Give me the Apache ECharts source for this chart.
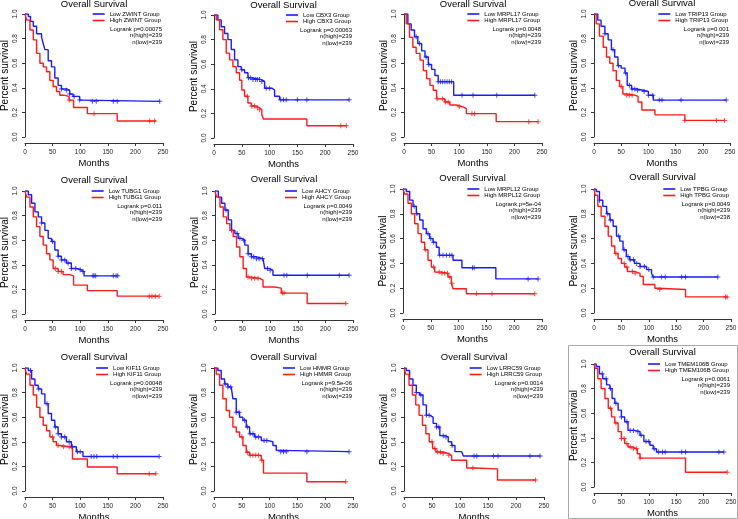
<!DOCTYPE html>
<html><head><meta charset="utf-8">
<script src="https://cdn.jsdelivr.net/npm/echarts@6/dist/echarts.min.js"></script>
<style>html,body{margin:0;padding:0;background:#fff}#c{width:738px;height:519px}</style>
</head><body><div id="c"></div>
<script>
// ---- tick labels ----
const xTicks = [0, 50, 100, 150, 200, 250];
const yTicks = [0, 0.2, 0.4, 0.6, 0.8, 1.0];

// ---- panel texts ----
const genes = ['ZWINT','CBX3','MRPL17','TRIP13','TUBG1','AHCY','MRPL12','TPBG','KIF11','HMMR','LRRC59','TMEM106B'];
const pValues = ['0.00075','0.00063','0.0048','0.001','0.011','0.0049','5e-04','0.0049','0.00048','9.5e-06','0.0014','0.0061'];
const nHigh = [239,239,239,239,239,239,239,239,239,239,239,239];
const nLow  = [239,239,239,239,239,239,239,238,239,239,239,239];

// ---- survival curves [months, survival] ----
const lowZWINT = [[0,1],[6,0.98],[10,0.94],[15,0.90],[21,0.84],[30,0.81],[33,0.76],[36,0.71],[42,0.62],[48,0.57],[54,0.48],[60,0.42],[66,0.39],[75,0.38],[81,0.35],[87,0.33],[99,0.30],[105,0.29],[244,0.29]];
const highZWINT = [[0,1],[3,0.95],[9,0.87],[15,0.79],[21,0.68],[27,0.60],[33,0.57],[39,0.53],[45,0.46],[51,0.41],[57,0.37],[63,0.34],[70,0.33],[80,0.30],[88,0.24],[113,0.19],[167,0.13],[237,0.13]];
const lowCBX3 = [[0,1],[7,0.96],[13,0.905],[19,0.85],[25,0.80],[31,0.72],[37,0.635],[43,0.58],[49,0.555],[55,0.53],[61,0.49],[67,0.475],[85,0.46],[91,0.405],[104,0.39],[109,0.34],[118,0.31],[243,0.31]];
const highCBX3 = [[0,1],[4,0.96],[10,0.88],[16,0.80],[22,0.69],[28,0.635],[34,0.58],[40,0.53],[46,0.47],[50,0.39],[55,0.34],[61,0.285],[67,0.26],[76,0.245],[82,0.23],[86,0.19],[89,0.155],[167,0.10],[238,0.10]];
const lowMRPL17 = [[0,1],[7,0.92],[13,0.87],[19,0.815],[25,0.76],[32,0.70],[38,0.65],[44,0.59],[50,0.55],[56,0.50],[62,0.45],[90,0.34],[237,0.34]];
const highMRPL17 = [[0,1],[4,0.92],[10,0.81],[16,0.73],[22,0.68],[29,0.625],[35,0.54],[41,0.475],[47,0.42],[53,0.38],[59,0.31],[74,0.285],[83,0.26],[95,0.245],[107,0.23],[113,0.19],[167,0.125],[243,0.125]];
const lowTRIP13 = [[0,1],[7,0.95],[13,0.90],[20,0.84],[26,0.79],[32,0.71],[38,0.65],[44,0.58],[50,0.56],[57,0.52],[61,0.42],[69,0.39],[78,0.38],[90,0.37],[100,0.34],[109,0.30],[243,0.30]];
const highTRIP13 = [[0,1],[4,0.92],[10,0.82],[17,0.73],[23,0.65],[29,0.60],[35,0.54],[41,0.46],[47,0.41],[53,0.35],[60,0.34],[75,0.33],[81,0.285],[88,0.22],[112,0.18],[167,0.135],[240,0.135]];
const lowTUBG1 = [[0,1],[6,0.97],[12,0.90],[18,0.83],[24,0.79],[30,0.74],[36,0.68],[42,0.615],[48,0.59],[54,0.52],[60,0.47],[66,0.44],[75,0.415],[84,0.37],[93,0.36],[102,0.345],[107,0.31],[168,0.31]];
const highTUBG1 = [[0,1],[3,0.95],[9,0.87],[15,0.79],[21,0.71],[27,0.63],[33,0.56],[39,0.49],[45,0.44],[51,0.37],[60,0.345],[69,0.32],[81,0.31],[88,0.235],[113,0.19],[167,0.145],[243,0.145]];
const lowAHCY = [[0,1],[6,0.95],[12,0.90],[18,0.845],[24,0.765],[30,0.68],[36,0.655],[42,0.615],[48,0.60],[54,0.56],[60,0.49],[66,0.465],[75,0.45],[87,0.44],[90,0.37],[99,0.355],[105,0.315],[243,0.315]];
const highAHCY = [[0,1],[3,0.95],[9,0.87],[15,0.79],[21,0.735],[27,0.68],[33,0.63],[39,0.545],[45,0.465],[51,0.37],[57,0.30],[66,0.29],[81,0.275],[87,0.22],[108,0.21],[120,0.17],[167,0.085],[237,0.085]];
const lowMRPL12 = [[0,1],[6,0.98],[12,0.91],[18,0.86],[24,0.80],[30,0.75],[36,0.68],[42,0.64],[48,0.60],[54,0.57],[60,0.53],[65,0.465],[90,0.425],[106,0.365],[167,0.275],[243,0.275]];
const highMRPL12 = [[0,1],[3,0.96],[9,0.885],[15,0.80],[21,0.72],[27,0.64],[33,0.57],[39,0.51],[45,0.425],[51,0.37],[57,0.33],[69,0.32],[81,0.29],[87,0.24],[90,0.195],[114,0.155],[237,0.155]];
const lowTPBG = [[0,1],[4,0.98],[10,0.91],[16,0.86],[23,0.80],[29,0.75],[35,0.70],[41,0.62],[47,0.58],[53,0.51],[59,0.455],[65,0.43],[74,0.40],[84,0.375],[96,0.35],[105,0.32],[108,0.29],[226,0.29]];
const highTPBG = [[0,1],[2,0.95],[7,0.86],[13,0.78],[20,0.70],[26,0.62],[32,0.54],[38,0.48],[44,0.44],[50,0.40],[56,0.37],[61,0.335],[74,0.32],[84,0.295],[90,0.23],[111,0.20],[117,0.19],[167,0.13],[243,0.13]];
const lowKIF11 = [[0,1],[6,0.98],[12,0.91],[18,0.86],[24,0.83],[30,0.79],[36,0.71],[42,0.63],[48,0.575],[54,0.52],[60,0.465],[66,0.44],[75,0.40],[84,0.36],[93,0.32],[105,0.28],[243,0.28]];
const highKIF11 = [[0,1],[3,0.95],[9,0.86],[15,0.78],[21,0.68],[27,0.60],[33,0.535],[39,0.49],[45,0.44],[51,0.40],[57,0.37],[63,0.36],[81,0.345],[86,0.26],[113,0.195],[167,0.14],[237,0.14]];
const lowHMMR = [[0,1],[7,0.98],[13,0.91],[19,0.87],[25,0.845],[31,0.83],[34,0.75],[40,0.64],[46,0.60],[52,0.575],[58,0.52],[64,0.465],[73,0.44],[85,0.41],[97,0.40],[106,0.37],[112,0.33],[118,0.32],[243,0.32]];
const highHMMR = [[0,1],[4,0.95],[10,0.86],[16,0.75],[22,0.655],[28,0.60],[34,0.52],[40,0.48],[46,0.44],[52,0.37],[58,0.315],[64,0.29],[85,0.25],[89,0.145],[167,0.075],[237,0.075]];
const lowLRRC59 = [[0,1],[4,0.98],[10,0.91],[16,0.86],[22,0.80],[28,0.78],[34,0.70],[40,0.615],[46,0.60],[52,0.55],[58,0.52],[64,0.45],[73,0.44],[79,0.40],[85,0.37],[91,0.32],[103,0.317],[106,0.285],[243,0.285]];
const highLRRC59 = [[0,1],[3,0.95],[9,0.86],[15,0.78],[21,0.70],[27,0.615],[33,0.535],[39,0.465],[45,0.40],[51,0.345],[57,0.317],[70,0.305],[79,0.29],[85,0.25],[112,0.187],[124,0.18],[167,0.09],[235,0.09]];
const lowTMEM106B = [[0,1],[4,0.98],[10,0.92],[16,0.88],[23,0.83],[29,0.80],[33,0.72],[38,0.68],[44,0.625],[50,0.57],[56,0.53],[62,0.46],[74,0.45],[84,0.42],[91,0.37],[102,0.34],[108,0.31],[114,0.285],[237,0.285]];
const highTMEM106B = [[0,1],[2,0.965],[7,0.88],[13,0.80],[20,0.72],[26,0.64],[32,0.57],[38,0.52],[44,0.45],[50,0.395],[56,0.353],[62,0.325],[71,0.31],[79,0.27],[84,0.235],[167,0.12],[243,0.12]];

// ---- censoring times (months) ----
const censLowZWINT = [66,75,81,89,99,122,129,160,167,244];
const censHighZWINT = [80,125,226,235];
const censLowCBX3 = [50,62,66,70,75,78,82,86,94,100,120,125,130,150,167,243];
const censHighCBX3 = [60,68,73,78,82,228,238];
const censLowMRPL17 = [22,28,40,45,62,66,70,74,78,82,86,105,125,168,237];
const censHighMRPL17 = [60,70,75,80,100,123,128,226,243];
const censLowTRIP13 = [20,35,45,58,65,70,75,80,92,100,108,120,125,160,243];
const censHighTRIP13 = [50,60,65,70,167,225,240];
const censLowTUBG1 = [30,50,60,66,72,78,84,92,100,105,123,125,128,160,165,168];
const censHighTUBG1 = [55,60,66,225,230,236,243];
const censLowAHCY = [20,30,40,45,52,60,66,70,75,80,86,95,100,125,130,167,225,243];
const censHighAHCY = [60,66,72,78,122,125,237];
const censLowMRPL12 = [20,25,45,50,55,66,72,78,84,88,125,128,225,243];
const censHighMRPL12 = [40,55,65,70,75,80,84,88,132,160,237];
const censLowTPBG = [10,25,30,45,55,62,66,72,78,84,92,100,108,123,130,160,167,226];
const censHighTPBG = [40,55,60,70,75,120,240,243];
const censLowKIF11 = [10,25,40,55,60,66,72,80,86,95,100,120,125,130,160,167,243];
const censHighKIF11 = [50,60,70,80,225,237];
const censLowHMMR = [20,25,30,40,45,55,60,65,70,75,80,90,95,120,125,130,167,243];
const censHighHMMR = [50,60,65,70,75,80,86,237];
const censLowLRRC59 = [22,30,40,45,58,62,70,75,86,125,130,160,168,225,243];
const censHighLRRC59 = [50,55,60,65,70,80,123,235];
const censLowTMEM106B = [15,22,30,40,50,60,66,72,80,86,95,100,110,118,125,130,160,167,228,237];
const censHighTMEM106B = [30,40,50,55,60,66,72,78,84,243];

const lowCurves = [lowZWINT,lowCBX3,lowMRPL17,lowTRIP13,lowTUBG1,lowAHCY,lowMRPL12,lowTPBG,lowKIF11,lowHMMR,lowLRRC59,lowTMEM106B];
const highCurves = [highZWINT,highCBX3,highMRPL17,highTRIP13,highTUBG1,highAHCY,highMRPL12,highTPBG,highKIF11,highHMMR,highLRRC59,highTMEM106B];
const lowCens = [censLowZWINT,censLowCBX3,censLowMRPL17,censLowTRIP13,censLowTUBG1,censLowAHCY,censLowMRPL12,censLowTPBG,censLowKIF11,censLowHMMR,censLowLRRC59,censLowTMEM106B];
const highCens = [censHighZWINT,censHighCBX3,censHighMRPL17,censHighTRIP13,censHighTUBG1,censHighAHCY,censHighMRPL12,censHighTPBG,censHighKIF11,censHighHMMR,censHighLRRC59,censHighTMEM106B];

// ---- layout (pixels) ----
const layout = [
  {l:25,t:14,r:163,b:137,ty:4},{l:214,t:15,r:353,b:138,ty:5},{l:404,t:14,r:542,b:137,ty:4},{l:594,t:14,r:730,b:137,ty:3},
  {l:25,t:191,r:163,b:314,ty:180},{l:215,t:191,r:353,b:314,ty:179},{l:403,t:189,r:542,b:313,ty:178},{l:594,t:189,r:731,b:313,ty:177},
  {l:25,t:368,r:163,b:491,ty:357},{l:214,t:368,r:353,b:491,ty:357},{l:404,t:368,r:544,b:491,ty:357},{l:594,t:364,r:731,b:487,ty:352}
];
const W = 738;
const FONT = 'Liberation Sans, Arial, sans-serif';
const BLUE = '#1a1aff', RED = '#ff1a1a', AX = '#333';
const plus = 'path://M2,0h1v2h2v1h-2v2h-1v-2h-2v-1h2z';

function survAt(curve, t) {
  let s = 1;
  for (const p of curve) { if (p[0] <= t) s = p[1]; else break; }
  return s;
}

const option = {
  animation: false,
  backgroundColor: '#fff',
  textStyle: { fontFamily: FONT },
  legend: [], grid: [], xAxis: [], yAxis: [], series: [], graphic: []
};

genes.forEach((g, i) => {
  const L = layout[i];
  const lowName = 'Low ' + g + ' Group', highName = 'High ' + g + ' Group';
  option.grid.push({ left: L.l, top: L.t, width: L.r - L.l, height: L.b - L.t, containLabel: false, outerBoundsMode: 'none' });
  option.xAxis.push({
    gridIndex: i, type: 'value', min: xTicks[0], max: xTicks[xTicks.length - 1], interval: xTicks[1] - xTicks[0],
    offset: 6, name: 'Months', nameLocation: 'middle', nameGap: 15,
    nameTextStyle: { fontSize: 9.5, color: '#000', fontFamily: FONT },
    axisLine: { show: true, onZero: false, lineStyle: { color: AX, width: 1 } },
    axisTick: { show: true, length: 3, lineStyle: { color: AX } },
    axisLabel: { fontSize: 6.5, margin: 6, color: '#222', showMinLabel: true, showMaxLabel: true, fontFamily: FONT },
    splitLine: { show: false }
  });
  option.yAxis.push({
    gridIndex: i, type: 'value', min: yTicks[0], max: yTicks[yTicks.length - 1], interval: yTicks[1] - yTicks[0],
    name: 'Percent survival', nameLocation: 'middle', nameGap: 15,
    nameTextStyle: { fontSize: 10, color: '#000', fontFamily: FONT },
    axisLine: { show: true, onZero: false, lineStyle: { color: AX, width: 1 } },
    axisTick: { show: true, length: 3, lineStyle: { color: AX } },
    axisLabel: { rotate: 90, fontSize: 6.5, margin: 6, color: '#222', formatter: v => v.toFixed(1), showMinLabel: true, showMaxLabel: true, fontFamily: FONT },
    splitLine: { show: false }
  });
  option.series.push({
    type: 'line', name: lowName, xAxisIndex: i, yAxisIndex: i, data: lowCurves[i], step: 'end',
    symbol: 'none', lineStyle: { color: BLUE, width: 1.4 }, itemStyle: { color: BLUE }, silent: true
  });
  option.series.push({
    type: 'line', name: highName, xAxisIndex: i, yAxisIndex: i, data: highCurves[i], step: 'end',
    symbol: 'none', lineStyle: { color: RED, width: 1.4 }, itemStyle: { color: RED }, silent: true
  });
  option.series.push({
    type: 'scatter', name: 'censLow' + i, xAxisIndex: i, yAxisIndex: i,
    data: lowCens[i].map(t => [t, survAt(lowCurves[i], t)]),
    symbol: plus, symbolSize: 5, itemStyle: { color: BLUE }, silent: true
  });
  option.series.push({
    type: 'scatter', name: 'censHigh' + i, xAxisIndex: i, yAxisIndex: i,
    data: highCens[i].map(t => [t, survAt(highCurves[i], t)]),
    symbol: plus, symbolSize: 5, itemStyle: { color: RED }, silent: true
  });
  option.legend.push({
    data: [{ name: lowName, icon: 'rect' }, { name: highName, icon: 'rect' }],
    orient: 'vertical', right: W - L.r + 2, top: L.t - 3,
    itemWidth: 12, itemHeight: 1.6, itemGap: 0.5, padding: 0, selectedMode: false,
    textStyle: { fontSize: 6, color: '#000', fontFamily: FONT }
  });
  // title
  option.graphic.push({
    type: 'text', x: (L.l + L.r) / 2, y: L.ty, silent: true,
    style: { text: 'Overall Survival', fontSize: 9.5, fontFamily: FONT, fill: '#000', align: 'center', verticalAlign: 'middle', textAlign: 'center', textVerticalAlign: 'middle' }
  });
  const stats = ['Logrank p=' + pValues[i], 'n(high)=' + nHigh[i], 'n(low)=' + nLow[i]];
  stats.forEach((s, k) => {
    option.graphic.push({
      type: 'text', x: L.r - 1, y: L.t + 15 + k * 6.5, silent: true,
      style: { text: s, fontSize: 6, fontFamily: FONT, fill: '#000', align: 'right', verticalAlign: 'middle', textAlign: 'right', textVerticalAlign: 'middle' }
    });
  });
});

// frame around last panel
option.graphic.push({
  type: 'rect', silent: true, z: -1,
  shape: { x: 568.5, y: 345.5, width: 169, height: 173 },
  style: { fill: 'none', stroke: '#aaa', lineWidth: 1 }
});

const chart = echarts.init(document.getElementById('c'), null, { renderer: 'canvas' });
chart.setOption(option);
</script>
</body></html>
